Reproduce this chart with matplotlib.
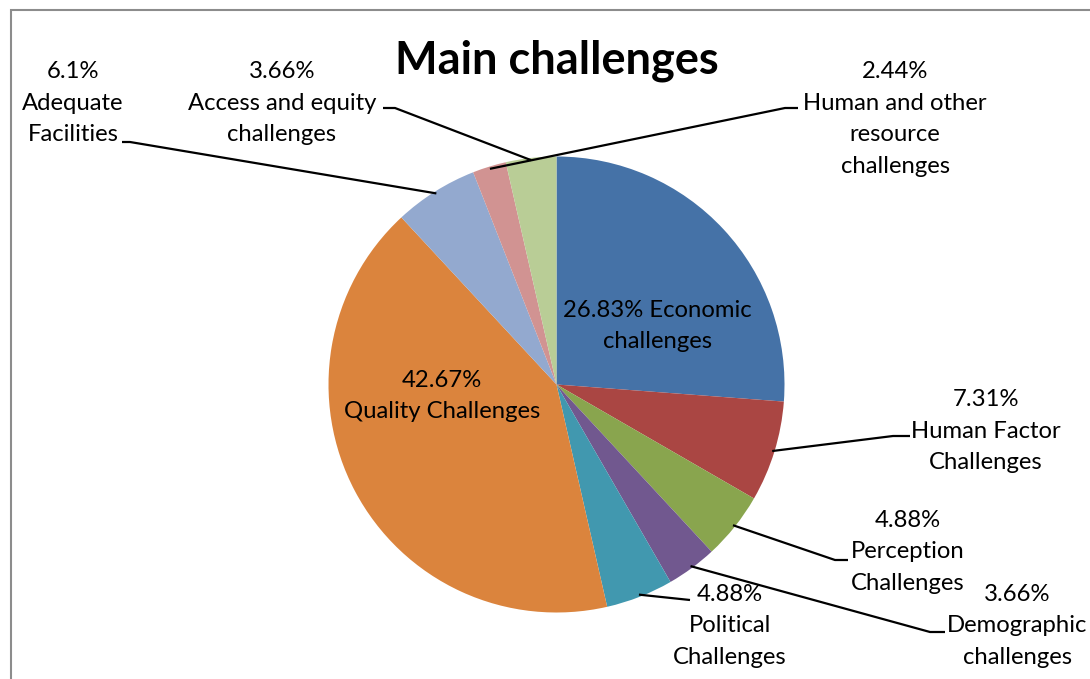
import numpy as np
import matplotlib
matplotlib.use("Agg")
import matplotlib.pyplot as plt
from matplotlib.patches import Rectangle

# slices, clockwise from 12 o'clock
categories = ["Economic challenges", "Human Factor Challenges", "Perception Challenges",
              "Demographic challenges", "Political Challenges", "Quality Challenges",
              "Adequate Facilities", "Human and other resource challenges",
              "Access and equity challenges"]
values = [26.83, 7.31, 4.88, 3.66, 4.88, 42.67, 6.1, 2.44, 3.66]
labels = ["26.83% Economic\nchallenges",
          "7.31%\nHuman Factor\nChallenges",
          "4.88%\nPerception\nChallenges",
          "3.66%\nDemographic\nchallenges",
          "4.88%\nPolitical\nChallenges",
          "42.67%\nQuality Challenges",
          "6.1%\nAdequate\nFacilities",
          "2.44%\nHuman and other\nresource\nchallenges",
          "3.66%\nAccess and equity\nchallenges"]
colors = ["#4572A7", "#AA4643", "#89A54E", "#71588F", "#4198AF",
          "#DB843D", "#93A9CF", "#D19392", "#B9CD96"]

W, H = 1090, 679
plt.rcParams['font.family'] = ['Lato', 'DejaVu Sans']

fig = plt.figure(figsize=(W / 100, H / 100), dpi=100)
ax = fig.add_axes([0, 0, 1, 1])

cx, cy, r = 556.5, H - 384.5, 228
wedges, _ = ax.pie(values, colors=colors, startangle=90, counterclock=False,
                   center=(cx, cy), radius=r, frame=True,
                   wedgeprops=dict(linewidth=0))
ax.set_xlim(0, W)
ax.set_ylim(0, H)
ax.axis('off')

# label placement (pixel coords, y from top): text centre, elbow, line end
place = {
    0: dict(xy=(657, 326), line=None),
    1: dict(xy=(986, 431), line=[(893, 436), (910, 436)]),
    2: dict(xy=(908, 552), line=[(835, 560), (848, 560)]),
    3: dict(xy=(1017, 626), line=[(930, 632), (945, 632)]),
    4: dict(xy=(730, 626), line=[(690, 600)]),
    5: dict(xy=(442, 396), line=None),
    6: dict(xy=(73, 103), line=[(130, 142), (122, 142)]),
    7: dict(xy=(895, 119), line=[(785, 108), (798, 108)]),
    8: dict(xy=(282, 103), line=[(395, 108), (383, 108)]),
}

for i, w in enumerate(wedges):
    p = place[i]
    x, y = p['xy']
    ax.text(x, H - y, labels[i], ha='center', va='center', fontsize=17.2,
            linespacing=1.62, color='black')
    if p['line'] is not None:
        ang = np.deg2rad((w.theta1 + w.theta2) / 2)
        px = cx + 0.99 * r * np.cos(ang)
        py = cy + 0.99 * r * np.sin(ang)
        xs = [px] + [q[0] for q in p['line']]
        ys = [py] + [H - q[1] for q in p['line']]
        ax.plot(xs, ys, color='black', lw=1.6, solid_capstyle='butt')

ax.text(557, H - 61, "Main challenges", ha='center', va='center',
        fontsize=32.5, fontweight='bold')

fig.patches.append(Rectangle((11 / W, -0.1), 1.2, (H - 10) / H + 0.1,
                             transform=fig.transFigure, fill=False,
                             edgecolor='#8c8c8c', lw=1.5))

fig.savefig("out.png", dpi=100)
